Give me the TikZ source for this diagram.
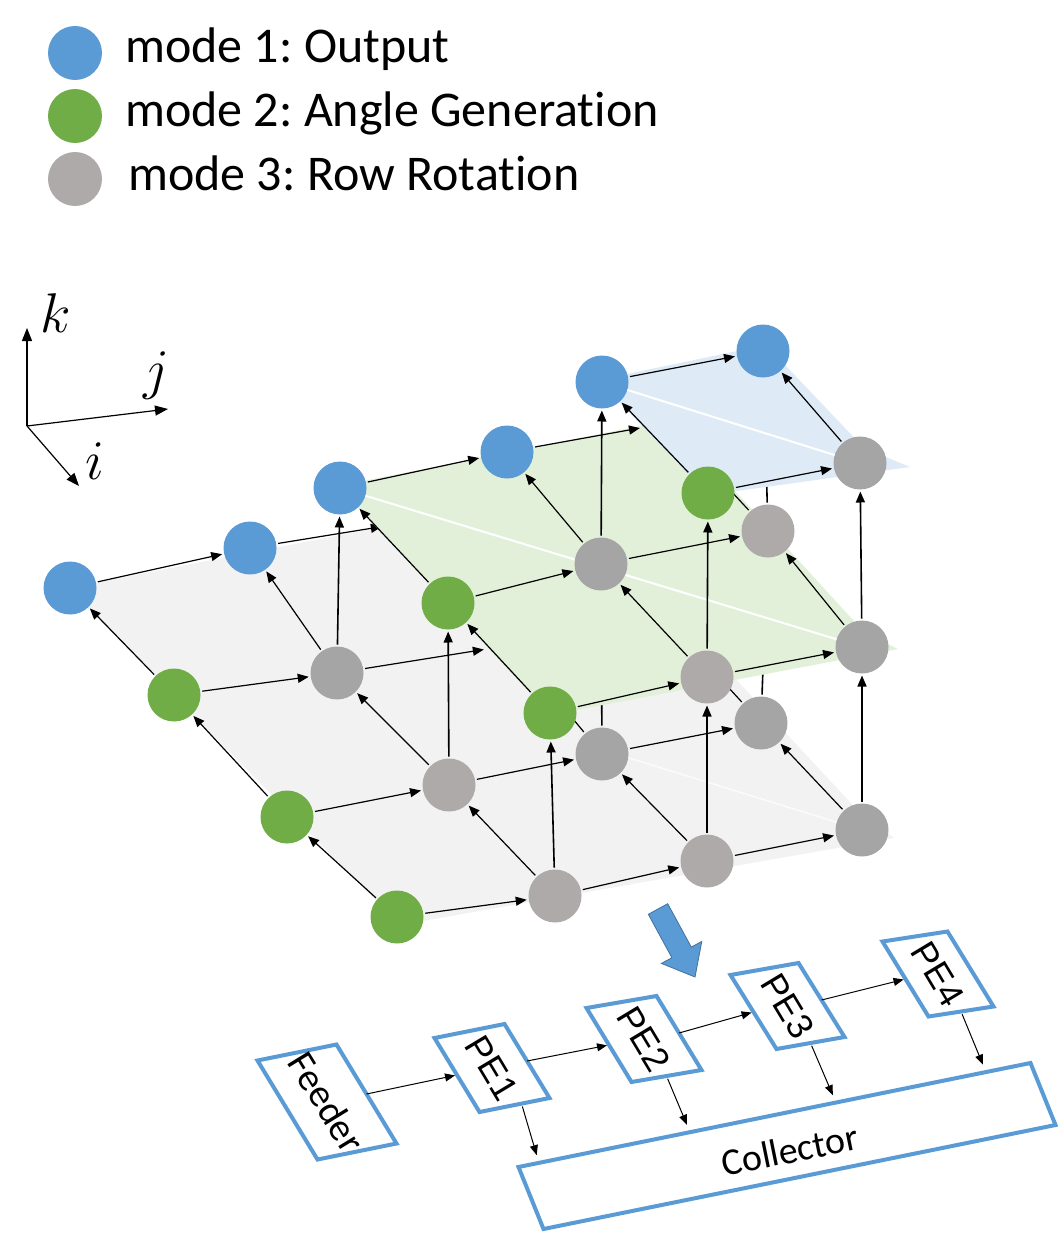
\documentclass[tikz,border=0pt]{standalone}
\usepackage{fix-cm}
\usepackage{fontspec}
\setmainfont{Carlito}[Ligatures=NoCommon]
\newfontfamily\arialf{Liberation Sans}
\usetikzlibrary{arrows.meta,calc}
\definecolor{cblue}{HTML}{5B9BD5}
\definecolor{cgreen}{HTML}{70AD47}
\definecolor{cgrayn}{HTML}{A5A5A5}
\definecolor{cgrayw}{HTML}{AEAAAA}
\definecolor{pgray}{HTML}{F2F2F2}
\definecolor{pgreen}{HTML}{E2F0D9}
\definecolor{pblue}{HTML}{DEEBF7}
\definecolor{bigline}{HTML}{41719C}
\pgfdeclarelayer{L0}\pgfdeclarelayer{L1}\pgfdeclarelayer{L2}
\pgfsetlayers{L0,L1,L2,main}
\frenchspacing
\begin{document}
\begin{tikzpicture}[x=1pt,y=-1pt,
  nd/.style={circle, minimum size=53pt, inner sep=0pt, outer sep=2pt},
  nb/.style={nd, fill=cblue},
  ng/.style={nd, fill=cgreen},
  nr/.style={nd, fill=cgrayn},
  nw/.style={nd, fill=cgrayw},
  nh/.style={nd},
  arr/.style={-{Triangle[length=11pt,width=9pt]}, line width=1.2pt},
  varr/.style={arr, line width=1.6pt},
  lgd/.style={circle, minimum size=54pt, inner sep=0pt},
  lgt/.style={anchor=base west, inner sep=0pt, font=\fontsize{50}{58}\selectfont},
  box/.style={draw=cblue, line width=4pt, rectangle, minimum width=2pt, minimum height=2pt, inner sep=0pt, outer sep=0pt, transform shape},
  boxarr/.style={-{Triangle[length=10pt,width=8pt]}, line width=1pt},
  axarr/.style={-{Triangle[length=13pt,width=10pt]}, line width=1.2pt},
  axlab/.style={inner sep=0pt, font=\fontsize{56}{56}\selectfont},
  petext/.style={rotate=-59, inner sep=0pt, font=\arialf\fontsize{36}{36}\selectfont},
  diag/.style={draw=white, line width=2pt},
]
\useasboundingbox (0,0) rectangle (1057,1236);

% ---------------- legend ----------------
\node[lgd, fill=cblue]  (lg1) at (75,53) {};
\node[lgd, fill=cgreen] (lg2) at (75,116) {};
\node[lgd, fill=cgrayw] (lg3) at (75,179) {};
\node[lgt] (lt1) at (125,63) {mode 1: Output};
\node[lgt] (lt2) at (125,127) {mode 2: Angle Generation};
\node[lgt] (lt3) at (128,190) {mode 3: Row Rotation};

% ---------------- axes ----------------
\coordinate (ax0) at (27,426);
\coordinate (axk) at (27,328);
\coordinate (axj) at (168,409);
\coordinate (axi) at (79,486);
\draw[axarr] (ax0) -- (axk);
\draw[axarr] (ax0) -- (axj);
\draw[axarr] (ax0) -- (axi);
\node[axlab] (lk) at (56,313) {$k$};
\node[axlab] (lj) at (156,376) {$j$};
\node[axlab] (li) at (95,461) {$i$};

% ---------------- layer 0 ----------------
\begin{pgfonlayer}{L0}
\fill[pgray] (68,588) -- (562,492) -- (862,815) -- (894,838) -- (400,925) -- cycle;
\draw[diag, opacity=0.7, line width=1.5pt] (600,749) -- (862,830);
\node[nb] (n000) at (70,588) {};
\node[nb] (n001) at (250,548) {};
\node[nh] (n002) at (410,522) {};
\node[nh] (n003) at (560,500) {};
\node[ng] (n010) at (174,695) {};
\node[nr] (n011) at (337,673) {};
\node[nh] (n012) at (512,645) {};
\node[nh] (n013) at (662,615) {};
\node[ng] (n020) at (287,817) {};
\node[nw] (n021) at (449,785) {};
\node[nr] (n022) at (602,754) {};
\node[nr] (n023) at (761,723) {};
\node[ng] (n030) at (397,917) {};
\node[nw] (n031) at (555,896) {};
\node[nw] (n032) at (707,861) {};
\node[nr] (n033) at (862,830) {};
% j direction
\foreach \a/\b in {n000/n001,n001/n002,n002/n003,n010/n011,n011/n012,n012/n013,
                   n020/n021,n021/n022,n022/n023,n030/n031,n031/n032,n032/n033}
  \draw[arr] (\a) -- (\b);
% i direction
\foreach \a/\b in {n010/n000,n020/n010,n030/n020,n011/n001,n021/n011,n031/n021,
                   n012/n002,n022/n012,n032/n022,n013/n003,n023/n013,n033/n023}
  \draw[arr] (\a) -- (\b);
\end{pgfonlayer}

% ---------------- layer 1 ----------------
\begin{pgfonlayer}{L1}
\fill[pgreen] (338,486) -- (670,420) -- (864,632) -- (898,649) -- (550,715) -- cycle;
\draw[diag] (340,488) -- (862,647);
\node[nb] (n111) at (340,488) {};
\node[nb] (n112) at (507,452) {};
\node[nh] (n113) at (668,423) {};
\node[ng] (n121) at (448,603) {};
\node[nr] (n122) at (601,564) {};
\node[nw] (n123) at (768,531) {};
\node[ng] (n131) at (550,713) {};
\node[nw] (n132) at (707,677) {};
\node[nr] (n133) at (862,647) {};
\foreach \a/\b in {n111/n112,n112/n113,n121/n122,n122/n123,n131/n132,n132/n133,
                   n121/n111,n131/n121,n122/n112,n132/n122,n123/n113,n133/n123}
  \draw[arr] (\a) -- (\b);
\end{pgfonlayer}

% vertical arrows layer 0 -> layer 1 (under the green plane)
\begin{pgfonlayer}{L0}
\foreach \a/\b in {n011/n111,n012/n112,n013/n113,n021/n121,n022/n122,n023/n123,
                   n031/n131,n032/n132,n033/n133}
  \draw[varr] (\a) -- (\b);
\end{pgfonlayer}

% ---------------- layer 2 ----------------
\begin{pgfonlayer}{L2}
\fill[pblue] (598,380) -- (766,345) -- (864,448) -- (910,467) -- (708,495) -- cycle;
\draw[diag] (602,382) -- (860,463);
\node[nb] (n222) at (602,382) {};
\node[nb] (n223) at (763,351) {};
\node[ng] (n232) at (708,493) {};
\node[nr] (n233) at (860,463) {};
\foreach \a/\b in {n222/n223,n232/n233,n232/n222,n233/n223}
  \draw[arr] (\a) -- (\b);
\end{pgfonlayer}

% vertical arrows layer 1 -> layer 2 (under the blue plane)
\begin{pgfonlayer}{L1}
\foreach \a/\b in {n122/n222,n123/n223,n132/n232,n133/n233}
  \draw[varr] (\a) -- (\b);
\end{pgfonlayer}

% ---------------- big arrow ----------------
\filldraw[fill=cblue, draw=bigline, line width=0.8pt]
  (667.7,903.7) -- (691.3,947.1) -- (701.8,941.4) -- (695,977)
  -- (661.4,963.4) -- (671.9,957.7) -- (648.3,914.3) -- cycle;

% ---------------- PE chain ----------------
\begin{scope}[shift={(327,1102)}, cm={39.5,8,-30,49.5,(0,0)}]
  \node[box] (feeder) at (0,0) {};
\end{scope}
\begin{scope}[shift={(492,1068)}, cm={35,7,-22.5,37,(0,0)}]
  \node[box] (pe1) at (0,0) {};
\end{scope}
\begin{scope}[shift={(644,1039)}, cm={35,6,-22.5,37,(0,0)}]
  \node[box] (pe2) at (0,0) {};
\end{scope}
\begin{scope}[shift={(787.5,1006)}, cm={34,6,-23,37,(0,0)}]
  \node[box] (pe3) at (0,0) {};
\end{scope}
\begin{scope}[shift={(938,974)}, cm={32.5,5,-23,37.5,(0,0)}]
  \node[box] (pe4) at (0,0) {};
\end{scope}
\begin{scope}[shift={(787,1146)}, cm={256,52,-12.5,31,(0,0)}]
  \node[box] (col) at (0,0) {};
\end{scope}

\node[rotate=-58.5, inner sep=0pt, font=\fontsize{39}{39}\selectfont] (feedert) at (feeder.center) {Feeder};
\node[petext] (pe1t) at (pe1.center) {PE1};
\node[petext] (pe2t) at (pe2.center) {PE2};
\node[petext] (pe3t) at (pe3.center) {PE3};
\node[petext] (pe4t) at (pe4.center) {PE4};
\node[rotate=11.5, inner sep=0pt, font=\fontsize{38}{38}\selectfont] (colt) at ($(col.center)+(3,4)$) {Collector};

\draw[boxarr, shorten >=2pt] (feeder.east) -- (pe1.west);
\draw[boxarr, shorten >=2pt] (pe1.east) -- (pe2.west);
\draw[boxarr, shorten >=2pt] (pe2.east) -- (pe3.west);
\draw[boxarr, shorten >=2pt] (pe3.east) -- (pe4.west);

\coordinate (c1) at ($(col.north west)!0.04!(col.north east)$);
\coordinate (c2) at ($(col.north west)!0.335!(col.north east)$);
\coordinate (c3) at ($(col.north west)!0.62!(col.north east)$);
\coordinate (c4) at ($(col.north west)!0.913!(col.north east)$);
\draw[boxarr, shorten <=3pt, shorten >=8pt] ($(pe1.south)!0.2!(pe1.south east)$) -- (c1);
\draw[boxarr, shorten <=3pt, shorten >=8pt] (pe2.south) -- (c2);
\draw[boxarr, shorten <=3pt, shorten >=8pt] (pe3.south) -- (c3);
\draw[boxarr, shorten <=3pt, shorten >=8pt] (pe4.south) -- (c4);
\end{tikzpicture}
\end{document}
